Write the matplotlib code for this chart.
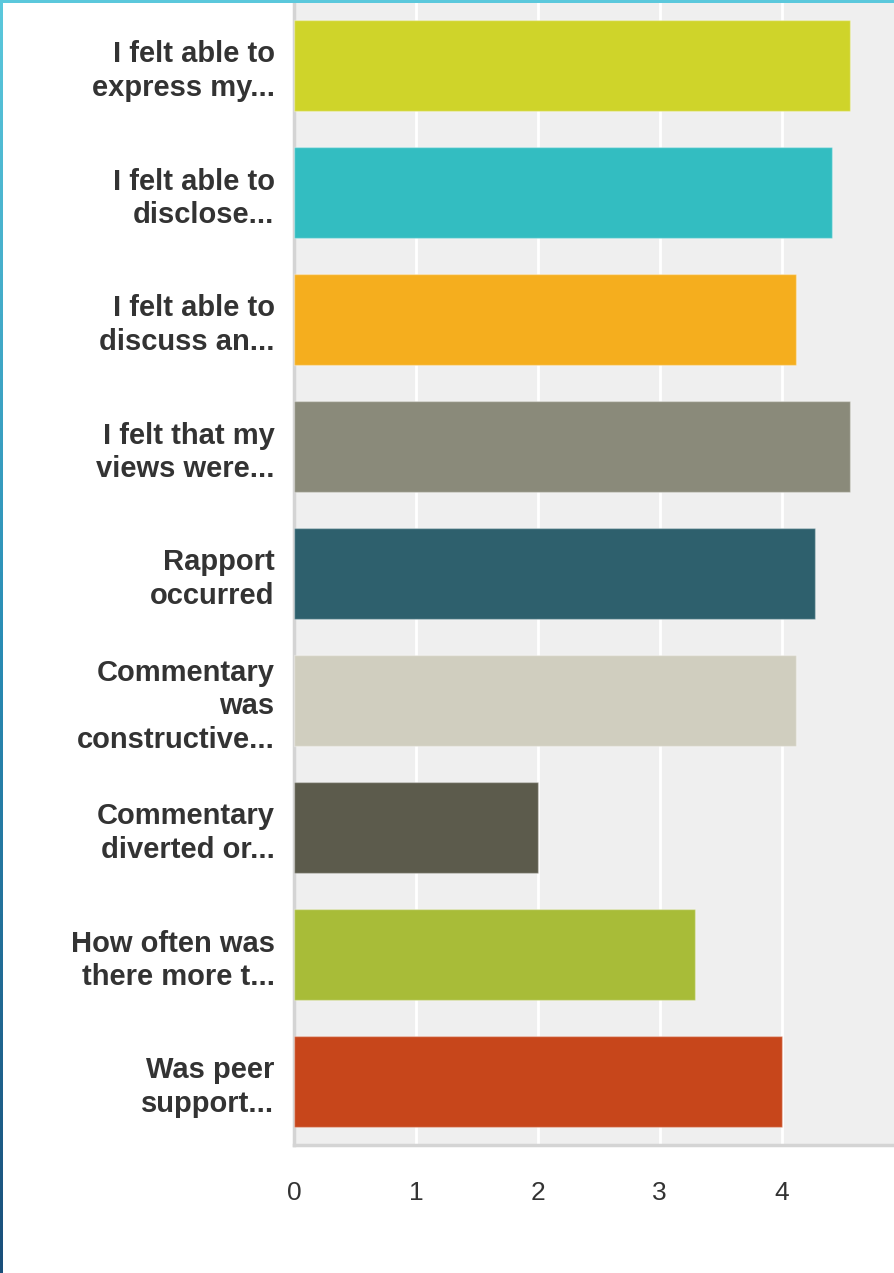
import matplotlib.pyplot as plt
import numpy as np
from matplotlib.colors import LinearSegmentedColormap

labels = ["I felt able to\nexpress my...", "I felt able to\ndisclose...", "I felt able to\ndiscuss an...",
          "I felt that my\nviews were...", "Rapport\noccurred", "Commentary\nwas\nconstructive...",
          "Commentary\ndiverted or...", "How often was\nthere more t...", "Was peer\nsupport..."]
values = [4.56, 4.41, 4.12, 4.56, 4.27, 4.12, 2.0, 3.29, 4.0]
colors = ["#cfd42a", "#33bdc1", "#f5ae1e", "#8a8a7a", "#2e606d",
          "#d0cebf", "#5c5b4c", "#a8bc38", "#c7461b"]
xticks = [0, 1, 2, 3, 4]

fig = plt.figure(figsize=(8.95, 12.73), dpi=100)
ax = fig.add_axes([294/895, 128/1273, 1 - 294/895, 1143/1273])
ax.set_facecolor("#efefef")

y = np.arange(len(values))
ax.barh(y, values, height=0.71, color=colors, edgecolor="#ffffff55", linewidth=1, zorder=3)
ax.set_ylim(len(values) - 0.5, -0.5)
ax.set_xlim(0, 4.93)

ax.set_xticks(xticks)
ax.set_xticklabels([str(t) for t in xticks], fontsize=19, color="#333333", family="Liberation Sans")
ax.set_yticks(y)
ax.set_yticklabels(labels, fontsize=21, fontweight="bold", color="#333333",
                   family="Liberation Sans", linespacing=1.25)
ax.tick_params(axis="x", length=0, pad=26)
ax.tick_params(axis="y", length=0, pad=14)
ax.grid(axis="x", color="white", linewidth=2, zorder=1)

for s in ["top", "right"]:
    ax.spines[s].set_visible(False)
for s in ["left", "bottom"]:
    ax.spines[s].set_color("#d4d4d4")
    ax.spines[s].set_linewidth(2.5)

# frame decoration: top line and left gradient
top = fig.add_axes([0, 1 - 3/1273, 1, 3/1273])
top.set_facecolor("#5bc8dc")
top.set_xticks([])
top.set_yticks([])
for s in top.spines.values():
    s.set_visible(False)

left = fig.add_axes([0, 0, 3/895, 1])
cmap = LinearSegmentedColormap.from_list("edge", ["#5bc8dc", "#2a8db5", "#1a4f7a"])
left.imshow(np.linspace(0, 1, 256).reshape(-1, 1), aspect="auto", cmap=cmap)
left.set_axis_off()

fig.savefig("out.png", dpi=100)
